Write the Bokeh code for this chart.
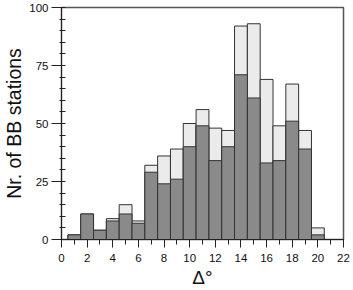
from bokeh.plotting import figure
from bokeh.models import Range1d, FixedTicker
from bokeh.embed import file_html
from bokeh.resources import INLINE

distance = [1, 2, 3, 4, 5, 6, 7, 8, 9, 10, 11, 12, 13, 14, 15, 16, 17, 18, 19, 20]
total = [2, 11, 4, 9, 15, 8, 32, 36, 39, 50, 56, 48, 47, 92, 93, 69, 49, 67, 47, 5]
subset = [2, 11, 4, 8, 11, 7, 29, 24, 26, 40, 49, 34, 40, 71, 61, 33, 34, 51, 39, 2]

p = figure(width=353, height=290, output_backend="svg", toolbar_location=None,
           x_range=Range1d(0, 22), y_range=Range1d(0, 100),
           min_border_left=59, min_border_right=10, min_border_top=7, min_border_bottom=50)
p.xgrid.visible = False
p.ygrid.visible = False
p.outline_line_color = "#555555"
p.outline_line_width = 1.5
p.background_fill_color = "white"

p.vbar(x=distance, top=total, width=1, fill_color="#ebebeb", line_color="#333333", line_width=1)
p.vbar(x=distance, top=subset, width=1, fill_color="#8a8a8a", line_color="#333333", line_width=1)

font = "Liberation Sans"
for ax in (p.xaxis[0], p.yaxis[0]):
    ax.axis_line_color = "#222222"
    ax.major_tick_line_color = "#222222"
    ax.minor_tick_line_color = "#222222"
    ax.major_label_text_font = font
    ax.major_label_text_font_size = "11.5px"
    ax.major_label_text_color = "#111111"
    ax.axis_label_text_font = font
    ax.axis_label_text_font_style = "normal"
    ax.axis_label_text_color = "#111111"

p.xaxis.ticker = FixedTicker(ticks=list(range(0, 23, 2)), minor_ticks=list(range(0, 23)))
p.xaxis.major_tick_out = 8
p.xaxis.major_tick_in = 0
p.xaxis.minor_tick_out = 5
p.xaxis.minor_tick_in = 0
p.xaxis.major_label_standoff = 6
p.xaxis.axis_label = "Δ°"
p.xaxis.axis_label_text_font_size = "19px"
p.xaxis.axis_label_standoff = 2

p.yaxis.ticker = FixedTicker(ticks=[0, 25, 50, 75, 100], minor_ticks=list(range(0, 101, 5)))
p.yaxis.major_tick_out = 10
p.yaxis.major_tick_in = 0
p.yaxis.minor_tick_out = 2
p.yaxis.minor_tick_in = 4
p.yaxis.major_label_standoff = 3
p.yaxis.axis_label = "Nr. of BB stations"
p.yaxis.axis_label_text_font_size = "19.5px"
p.yaxis.axis_label_standoff = 1

open("out.html", "w").write(file_html(p, INLINE))
